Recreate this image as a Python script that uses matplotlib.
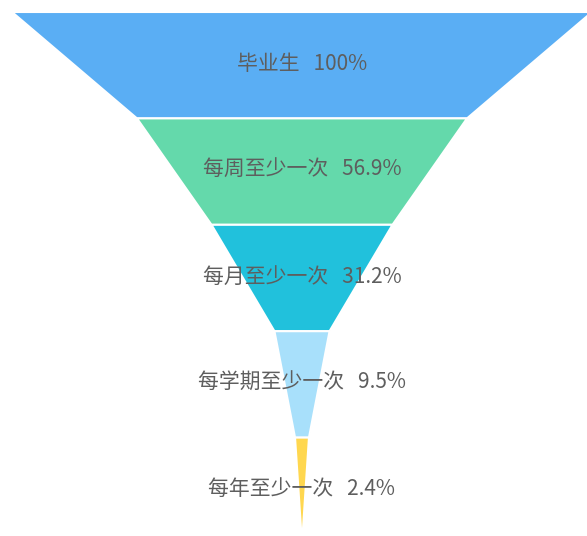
import matplotlib
matplotlib.use("Agg")
import matplotlib.pyplot as plt
from matplotlib.patches import Polygon

plt.rcParams['font.family'] = ['Noto Sans CJK SC', 'DejaVu Sans']

labels = ["毕业生", "每周至少一次", "每月至少一次", "每学期至少一次", "每年至少一次"]
values = [100, 56.9, 31.2, 9.5, 2.4]
value_text = ["100%", "56.9%", "31.2%", "9.5%", "2.4%"]
colors = ["#5AAEF4", "#64D9AB", "#21C1DC", "#A8E0FB", "#FFD74F"]

W, H = 587, 536
fig = plt.figure(figsize=(W / 100, H / 100), dpi=100)
ax = fig.add_axes([0, 0, 1, 1])
ax.set_xlim(0, W)
ax.set_ylim(H, 0)
ax.axis('off')

cx = 302
full_w = 580
top = 12
bottom = 544
n = len(values)
seg_h = (bottom - top) / n
maxv = max(values)
for i, (lab, v, vt, c) in enumerate(zip(labels, values, value_text, colors)):
    w_top = full_w * v / maxv
    w_bot = full_w * values[i + 1] / maxv if i + 1 < n else 0
    y0 = top + i * seg_h
    y1 = y0 + seg_h
    poly = Polygon([(cx - w_top / 2, y0), (cx + w_top / 2, y0),
                    (cx + w_bot / 2, y1), (cx - w_bot / 2, y1)],
                   closed=True, facecolor=c, edgecolor='white', linewidth=1.5)
    ax.add_patch(poly)
    ax.text(cx, (y0 + y1) / 2 - 1.5, f"{lab}   {vt}", ha='center', va='center',
            fontsize=15, color='#5e5e5e')

fig.savefig("out.png", dpi=100)
